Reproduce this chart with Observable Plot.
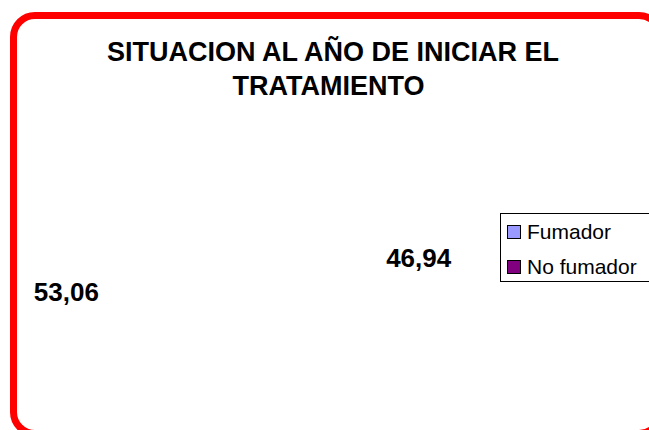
<!DOCTYPE html>
<html>
<head>
<meta charset="utf-8">
<script src="https://cdn.jsdelivr.net/npm/d3@7"></script>
<script src="https://cdn.jsdelivr.net/npm/@observablehq/plot@0.6"></script>
<style>
  html, body { margin: 0; padding: 0; background: #fff; overflow: hidden; }
  #wrap { position: relative; width: 649px; height: 430px; overflow: hidden; font-family: "Liberation Sans", Arial, sans-serif; background: #fff; }
  #wrap svg { position: absolute; left: 0; top: 0; }
  #border { position: absolute; left: 10px; top: 12px; width: 654px; height: 425px; border: 7px solid #FF0000; border-radius: 25px; box-sizing: border-box; pointer-events: none; }
  #legend { position: absolute; left: 500px; top: 213px; width: 170px; height: 69px; border: 1px solid #000; background: #fff; box-sizing: border-box; }
  .item { position: absolute; left: 6px; height: 20px; display: flex; align-items: center; font-size: 21px; color: #000; }
  .sw { width: 12px; height: 12px; border: 1.5px solid #000; margin-right: 6px; }
</style>
</head>
<body>
<div id="wrap"><div id="border"></div></div>
<script>
const titleLines = ["SITUACION AL AÑO DE INICIAR EL", "TRATAMIENTO"];
const categories = ["Fumador", "No fumador"];
const values = [46.94, 53.06];
const colors = ["#9999FF", "#800080"];

const fmt = v => d3.format(".2f")(v).replace(".", ",");

const arcs = d3.pie().sort(null).value(d => d.value)(
  categories.map((c, i) => ({category: c, value: values[i]}))
);
const labels = arcs.map(a => {
  const mid = (a.startAngle + a.endAngle) / 2;
  return {x: Math.sin(mid), y: Math.cos(mid), text: fmt(a.data.value)};
});

const titleStyle = {frameAnchor: "top", lineAnchor: "top", text: d => d, fontSize: 27, fontWeight: "bold", fill: "#000"};

const chart = Plot.plot({
  width: 649,
  height: 430,
  margin: 0,
  style: {background: "transparent", fontFamily: "'Liberation Sans', Arial, sans-serif"},
  x: {domain: [-1, 1], range: [65, 419], axis: null},
  y: {domain: [-1, 1], range: [452, 98], axis: null},
  marks: [
    Plot.text([titleLines[0]], {...titleStyle, dx: 8, dy: 41}),
    Plot.text([titleLines[1]], {...titleStyle, dx: 3.5, dy: 75}),
    Plot.text(labels, {x: "x", y: "y", text: "text", fontSize: 26, fontWeight: "bold", fill: "#000"})
  ]
});

const wrap = document.getElementById("wrap");
wrap.insertBefore(chart, wrap.firstChild);

const legend = document.createElement("div");
legend.id = "legend";
categories.forEach((c, i) => {
  const item = document.createElement("div");
  item.className = "item";
  item.style.top = (8 + i * 35) + "px";
  const sw = document.createElement("span");
  sw.className = "sw";
  sw.style.background = colors[i];
  const t = document.createElement("span");
  t.textContent = c;
  item.appendChild(sw);
  item.appendChild(t);
  legend.appendChild(item);
});
wrap.appendChild(legend);
</script>
</body>
</html>
